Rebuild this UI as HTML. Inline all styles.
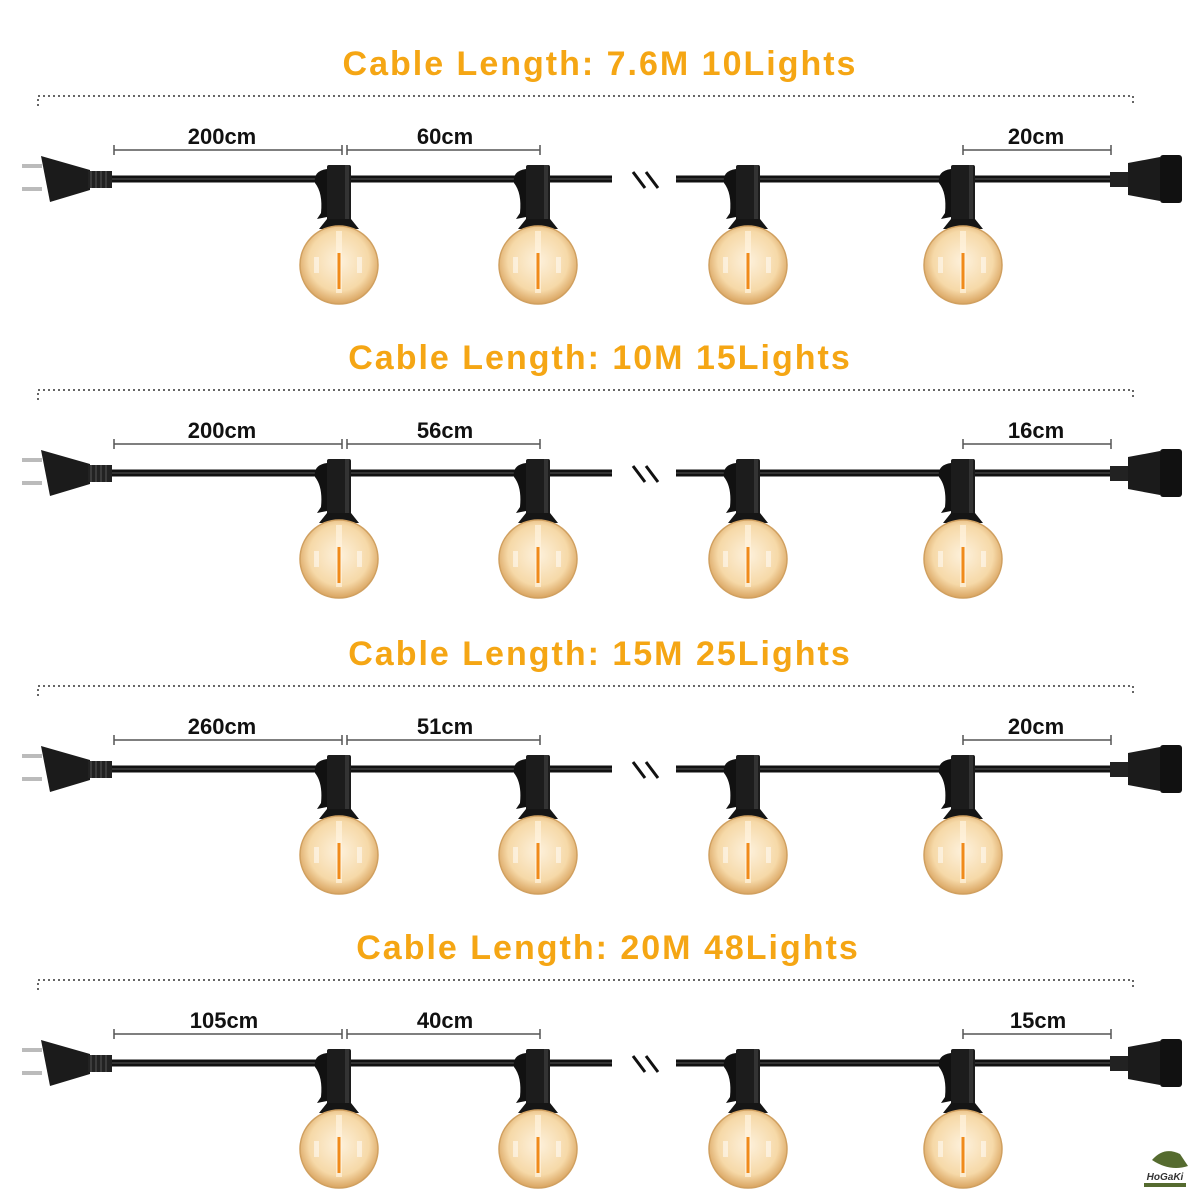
<!DOCTYPE html>
<html><head><meta charset="utf-8"><style>
html,body{margin:0;padding:0;background:#fff;width:1200px;height:1200px;overflow:hidden}
text{font-family:"Liberation Sans",sans-serif;font-weight:bold}
</style></head><body>
<svg width="1200" height="1200" viewBox="0 0 1200 1200" xmlns="http://www.w3.org/2000/svg">
<defs>
<radialGradient id="bg" cx="0.5" cy="0.45" r="0.55">
<stop offset="0" stop-color="#fdf1dc"/><stop offset="0.7" stop-color="#f6d9a8"/><stop offset="1" stop-color="#d9a460"/>
</radialGradient>
<g id="bulb">
<path d="M-12,-96 q-14,2 -12,14 q8,10 6,30 l-4,6 l10,-2 v-48z" fill="#111"/>
<rect x="-12" y="-100" width="24" height="56" rx="2" fill="#1c1c1c"/>
<rect x="6" y="-100" width="4" height="56" fill="#333"/>
<path d="M-12,-46 h24 l8,10 h-40z" fill="#151515"/>
<circle cx="0" cy="0" r="39" fill="url(#bg)" stroke="#d0a060" stroke-width="1.5"/>
<rect x="-3" y="-34" width="6" height="62" fill="#fff3e0" opacity="0.7"/>
<rect x="-1.5" y="-12" width="3" height="36" fill="#f08a1a"/>
<rect x="-25" y="-8" width="5" height="16" fill="#fff" opacity="0.5"/>
<rect x="18" y="-8" width="5" height="16" fill="#fff" opacity="0.5"/>
</g>
<g id="row">
<path d="M38,106 V96 H1133 V106" fill="none" stroke="#666" stroke-width="2" stroke-dasharray="2,3"/>
<g stroke="#555" stroke-width="1.5" fill="none">
<path d="M114,150 H342 M114,145 V155 M342,145 V155 M347,145 V155 M347,150 H540 M540,145 V155 M963,150 H1111 M963,145 V155 M1111,145 V155"/>
</g>
<path d="M100,179 H612 M676,179 H1115" stroke="#111" stroke-width="7"/>
<path d="M100,179 H612 M676,179 H1115" stroke="#555" stroke-width="1"/>
<path d="M633,172 l12,16 M646,172 l12,16" stroke="#111" stroke-width="3"/>
<path d="M22,166 h20 M22,189 h20" stroke="#bbb" stroke-width="4"/>
<path d="M41,156 L90,170 V190 L50,202 Z" fill="#1b1b1b"/>
<rect x="88" y="171" width="24" height="17" fill="#222"/>
<path d="M91,171 v17 M96,171 v17 M101,171 v17 M106,171 v17" stroke="#555" stroke-width="1"/>
<rect x="1110" y="172" width="20" height="15" fill="#222"/>
<path d="M1128,163 L1160,157 V201 L1128,195Z" fill="#1b1b1b"/>
<rect x="1160" y="155" width="22" height="48" rx="3" fill="#111"/>
<use href="#bulb" x="339" y="265"/>
<use href="#bulb" x="538" y="265"/>
<use href="#bulb" x="748" y="265"/>
<use href="#bulb" x="963" y="265"/>
</g>
</defs>
<g font-size="22" fill="#111">
<g transform="translate(0,0)"><use href="#row"/>
<text x="600" y="75" font-size="34" fill="#f5a614" text-anchor="middle" letter-spacing="2">Cable Length: 7.6M 10Lights</text>
<text x="222" y="144" text-anchor="middle">200cm</text><text x="445" y="144" text-anchor="middle">60cm</text><text x="1036" y="144" text-anchor="middle">20cm</text></g>
<g transform="translate(0,294)"><use href="#row"/>
<text x="600" y="75" font-size="34" fill="#f5a614" text-anchor="middle" letter-spacing="2">Cable Length: 10M 15Lights</text>
<text x="222" y="144" text-anchor="middle">200cm</text><text x="445" y="144" text-anchor="middle">56cm</text><text x="1036" y="144" text-anchor="middle">16cm</text></g>
<g transform="translate(0,590)"><use href="#row"/>
<text x="600" y="75" font-size="34" fill="#f5a614" text-anchor="middle" letter-spacing="2">Cable Length: 15M 25Lights</text>
<text x="222" y="144" text-anchor="middle">260cm</text><text x="445" y="144" text-anchor="middle">51cm</text><text x="1036" y="144" text-anchor="middle">20cm</text></g>
<g transform="translate(0,884)"><use href="#row"/>
<text x="608" y="75" font-size="34" fill="#f5a614" text-anchor="middle" letter-spacing="2">Cable Length: 20M 48Lights</text>
<text x="224" y="144" text-anchor="middle">105cm</text><text x="445" y="144" text-anchor="middle">40cm</text><text x="1038" y="144" text-anchor="middle">15cm</text></g>
</g>
<path d="M1152,1160 q12,-14 28,-6 l8,12 q-18,6 -36,-6z" fill="#556b2f"/>
<text x="1165" y="1180" font-size="10" fill="#333" text-anchor="middle" font-style="italic">HoGaKi</text>
<rect x="1144" y="1183" width="42" height="4" fill="#556b2f"/>
</svg>
</body></html>
